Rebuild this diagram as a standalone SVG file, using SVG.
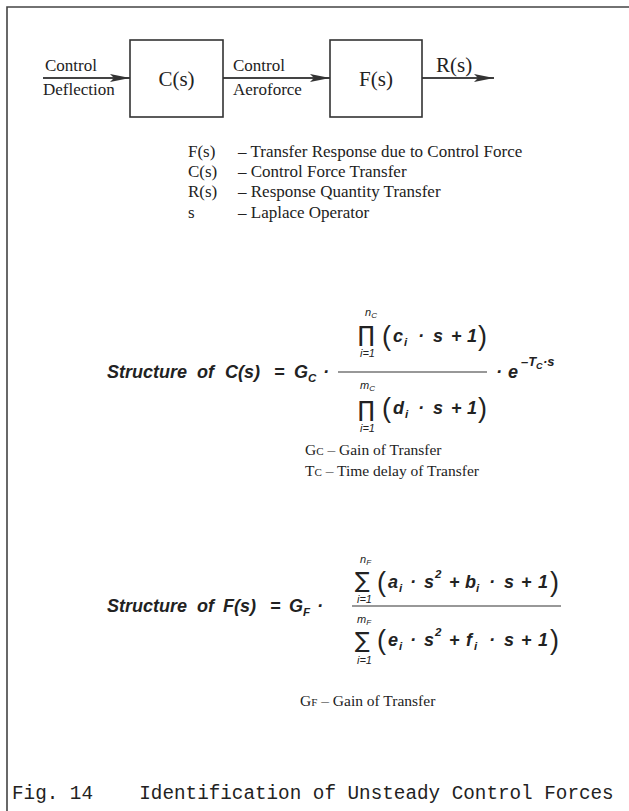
<svg xmlns="http://www.w3.org/2000/svg" width="629" height="811" viewBox="0 0 629 811">
<style>
.frame{fill:none;stroke:#444;stroke-width:1.6}
.box{fill:none;stroke:#333;stroke-width:1.6}
.conn{fill:none;stroke:#444;stroke-width:1.8}
.bar{stroke:#333;stroke-width:1.2}
.lbl{font-family:"Liberation Serif",serif;fill:#222}
.big{font-size:21px}
.md{font-size:17px}
.sm{font-size:15.5px}
.eq{font-family:"Liberation Sans",Arial,sans-serif;font-style:italic;font-weight:bold;fill:#222;font-size:18px}
.eqn{font-family:"Liberation Sans",Arial,sans-serif;font-style:italic;fill:#222;font-size:11px}
.sub{font-size:11.5px}
.sup{font-size:13px}
.sup2{font-size:9px}
.par{font-family:"Liberation Sans",Arial,sans-serif;fill:#222;font-size:27px}
.op{font-family:"DejaVu Sans",sans-serif;fill:#222}
.cap{font-family:"Liberation Mono",monospace;font-size:19.3px;fill:#222}
</style>
<defs>
<marker id="ah" viewBox="0 0 20 10" refX="20" refY="5" markerWidth="20" markerHeight="10" markerUnits="userSpaceOnUse" orient="auto">
<path d="M0,1 L20,5 L0,9 L4,5 Z" fill="#333"/>
</marker>
</defs>
<rect width="629" height="811" fill="#fff"/>
<path class="frame" d="M7,811 V7 H629"/>

<g id="connectors">
<line class="conn" x1="43" y1="78" x2="130" y2="78" marker-end="url(#ah)"/>
<line class="conn" x1="223" y1="78" x2="330" y2="78" marker-end="url(#ah)"/>
<line class="conn" x1="422" y1="78" x2="494" y2="78" marker-end="url(#ah)"/>
</g>

<g id="input-label" class="lbl md">
<text x="45" y="71">Control</text>
<text x="43" y="95">Deflection</text>
</g>
<g id="C-block">
<rect class="box" x="130" y="40" width="93" height="77"/>
<text class="lbl big" x="176.5" y="86" text-anchor="middle">C(s)</text>
</g>
<g id="mid-label" class="lbl md">
<text x="233" y="71">Control</text>
<text x="233" y="95">Aeroforce</text>
</g>
<g id="F-block">
<rect class="box" x="330" y="40" width="92" height="77"/>
<text class="lbl big" x="376" y="86" text-anchor="middle">F(s)</text>
</g>
<g id="output-label">
<text class="lbl big" x="436" y="72">R(s)</text>
</g>

<g id="legend" class="lbl md">
<text x="188" y="157">F(s)</text><text x="238" y="157">– Transfer Response due to Control Force</text>
<text x="188" y="177">C(s)</text><text x="238" y="177">– Control Force Transfer</text>
<text x="188" y="197">R(s)</text><text x="238" y="197">– Response Quantity Transfer</text>
<text x="188" y="218">s</text><text x="238" y="218">– Laplace Operator</text>
</g>

<g id="formula-C">
<text class="eq" x="107" y="378">Structure</text>
<text class="eq" x="197" y="378">of</text>
<text class="eq" x="225" y="378">C(s)</text>
<text class="eq" x="274" y="378">=</text>
<text class="eq" x="294" y="378">G</text>
<text class="eq sub" x="308" y="382">C</text>
<text class="eq" x="323" y="378">·</text>
<line class="bar" x1="338" y1="372" x2="487" y2="372"/>
<text class="eqn" x="365" y="316">n<tspan font-size="8" dy="2">C</tspan></text>
<text class="op" x="358" y="342" font-size="22">∏</text>
<text class="eqn" x="360" y="357">i=1</text>
<text class="par" x="382" y="345">(</text>
<text class="eq" x="393" y="342">c</text>
<text class="eq sub" x="404" y="346">i</text>
<text class="eq" x="418" y="342">·</text>
<text class="eq" x="433" y="342">s</text>
<text class="eq" x="451" y="342">+</text>
<text class="eq" x="467" y="342">1</text>
<text class="par" x="478" y="345">)</text>
<text class="eqn" x="360" y="389">m<tspan font-size="8" dy="2">C</tspan></text>
<text class="op" x="358" y="417" font-size="22">∏</text>
<text class="eqn" x="360" y="432">i=1</text>
<text class="par" x="382" y="417">(</text>
<text class="eq" x="393" y="414">d</text>
<text class="eq sub" x="405" y="418">i</text>
<text class="eq" x="418" y="414">·</text>
<text class="eq" x="433" y="414">s</text>
<text class="eq" x="451" y="414">+</text>
<text class="eq" x="467" y="414">1</text>
<text class="par" x="478" y="417">)</text>
<text class="eq" x="496" y="378">·</text>
<text class="eq" x="508" y="378">e</text>
<text class="eq sup" x="521" y="366">–T</text>
<text class="eq sup2" x="536" y="369">C</text>
<text class="eq sup" x="543" y="366">·s</text>
</g>

<g id="legend-C" class="lbl sm">
<text x="305" y="455">G<tspan font-size="11">C</tspan> – Gain of Transfer</text>
<text x="305" y="476">T<tspan font-size="11">C</tspan>  – Time delay of Transfer</text>
</g>

<g id="formula-F">
<text class="eq" x="107" y="612">Structure</text>
<text class="eq" x="197" y="612">of</text>
<text class="eq" x="223" y="612">F(s)</text>
<text class="eq" x="270" y="612">=</text>
<text class="eq" x="289" y="612">G</text>
<text class="eq sub" x="303" y="616">F</text>
<text class="eq" x="317" y="612">·</text>
<line class="bar" x1="352" y1="606" x2="561" y2="606"/>
<text class="eqn" x="360" y="563">n<tspan font-size="8" dy="2">F</tspan></text>
<text class="op" x="355" y="588" font-size="22">∑</text>
<text class="eqn" x="357" y="603">i=1</text>
<text class="par" x="377" y="591">(</text>
<text class="eq" x="388" y="588">a</text>
<text class="eq sub" x="399" y="592">i</text>
<text class="eq" x="410" y="588">·</text>
<text class="eq" x="424" y="588">s</text>
<text class="eq sub" x="435" y="578">2</text>
<text class="eq" x="449" y="588">+</text>
<text class="eq" x="465" y="588">b</text>
<text class="eq sub" x="476" y="592">i</text>
<text class="eq" x="489" y="588">·</text>
<text class="eq" x="504" y="588">s</text>
<text class="eq" x="521" y="588">+</text>
<text class="eq" x="538" y="588">1</text>
<text class="par" x="550" y="591">)</text>
<text class="eqn" x="357" y="623">m<tspan font-size="8" dy="2">F</tspan></text>
<text class="op" x="355" y="648" font-size="22">∑</text>
<text class="eqn" x="357" y="664">i=1</text>
<text class="par" x="377" y="649">(</text>
<text class="eq" x="388" y="646">e</text>
<text class="eq sub" x="399" y="650">i</text>
<text class="eq" x="410" y="646">·</text>
<text class="eq" x="424" y="646">s</text>
<text class="eq sub" x="435" y="636">2</text>
<text class="eq" x="449" y="646">+</text>
<text class="eq" x="466" y="646">f</text>
<text class="eq sub" x="474" y="650">i</text>
<text class="eq" x="489" y="646">·</text>
<text class="eq" x="504" y="646">s</text>
<text class="eq" x="521" y="646">+</text>
<text class="eq" x="538" y="646">1</text>
<text class="par" x="550" y="649">)</text>
</g>

<g id="legend-F" class="lbl sm">
<text x="300" y="706">G<tspan font-size="11">F</tspan> – Gain of Transfer</text>
</g>

<text class="cap" x="12" y="799" xml:space="preserve">Fig. 14    Identification of Unsteady Control Forces</text>
</svg>
